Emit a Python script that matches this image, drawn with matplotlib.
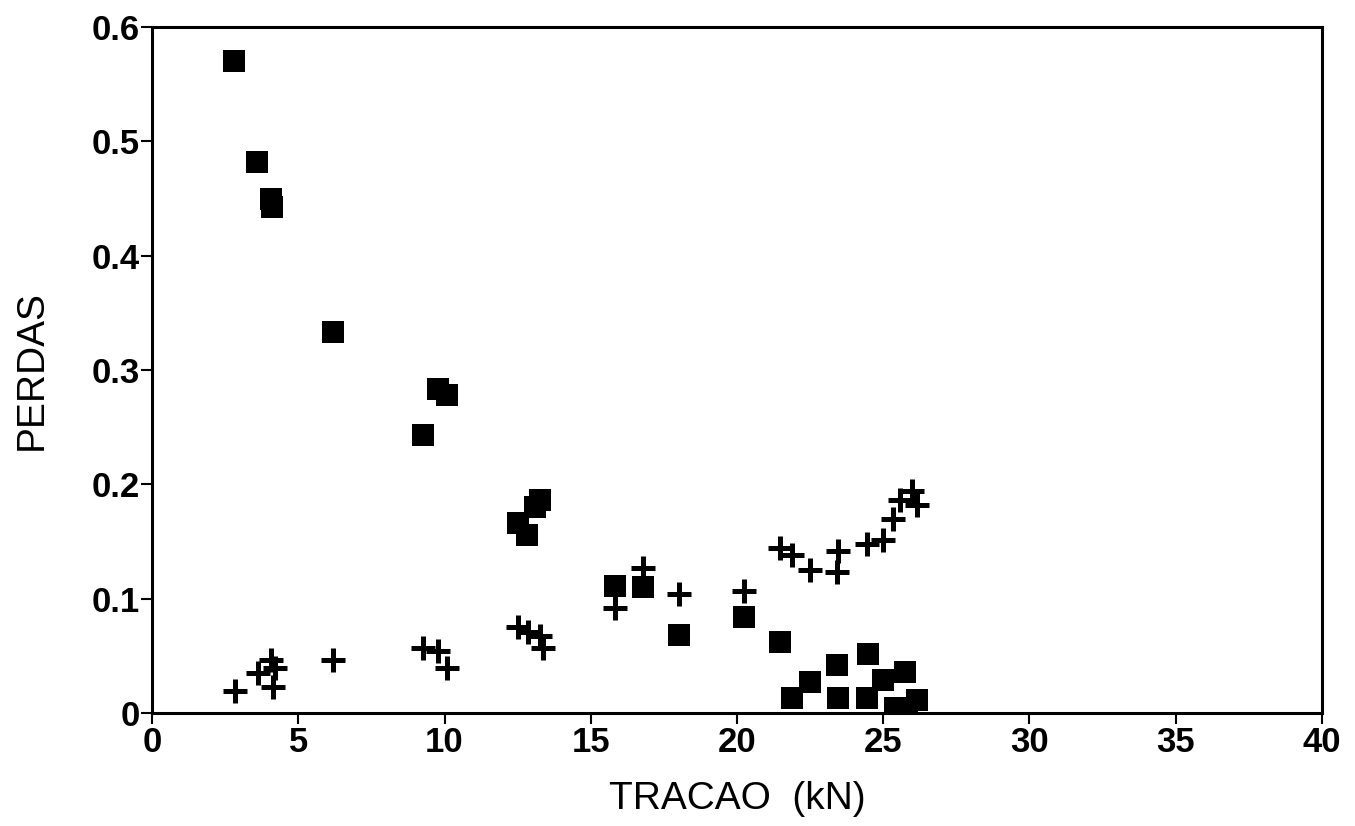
import matplotlib
matplotlib.use("Agg")
import matplotlib.pyplot as plt

# squares: losses measured at each traction
sq_tracao = [2.8, 3.6, 4.06, 4.09, 6.19, 9.79, 10.07, 9.28, 12.52, 12.81,
             13.1, 13.28, 15.83, 16.8, 18.02, 20.25, 21.47, 21.89, 22.5,
             23.43, 23.46, 24.49, 24.43, 25.0, 25.74, 25.4, 25.8, 26.14]
sq_perdas = [0.570, 0.482, 0.450, 0.443, 0.333, 0.283, 0.278, 0.243, 0.166,
             0.156, 0.180, 0.186, 0.111, 0.110, 0.068, 0.084, 0.062, 0.013,
             0.027, 0.042, 0.013, 0.052, 0.013, 0.029, 0.036, 0.004, 0.004,
             0.011]

# crosses: second series
cr_tracao = [2.82, 3.64, 4.06, 4.21, 4.12, 6.2, 9.28, 9.79, 10.1, 12.52,
             12.87, 13.26, 13.36, 15.83, 16.8, 18.03, 20.25, 21.47, 21.87,
             22.5, 23.46, 23.43, 24.43, 25.0, 25.34, 25.57, 25.97, 26.14]
cr_perdas = [0.019, 0.035, 0.046, 0.039, 0.023, 0.046, 0.057, 0.054, 0.039,
             0.0755, 0.071, 0.067, 0.057, 0.0915, 0.127, 0.104, 0.107, 0.144,
             0.138, 0.125, 0.142, 0.123, 0.148, 0.151, 0.170, 0.186, 0.194,
             0.182]

xticks = [0, 5, 10, 15, 20, 25, 30, 35, 40]
yticks = [0, 0.1, 0.2, 0.3, 0.4, 0.5, 0.6]
ytick_labels = ["0", "0.1", "0.2", "0.3", "0.4", "0.5", "0.6"]

plt.rcParams["font.family"] = ["Liberation Sans", "DejaVu Sans"]

fig = plt.figure(figsize=(13.55, 8.26), dpi=100)
ax = fig.add_axes([0.1122, 0.1368, 0.8634, 0.8305])

ax.plot(sq_tracao, sq_perdas, linestyle="none", marker="s", markersize=16.5,
        color="black", markeredgewidth=0)
ax.plot(cr_tracao, cr_perdas, linestyle="none", marker="+", markersize=17,
        color="black", markeredgewidth=3.6)

ax.set_xlim(0, 40)
ax.set_ylim(0, 0.6)
ax.set_xticks(xticks)
ax.set_xticklabels([str(t) for t in xticks], fontsize=25, fontweight="bold")
ax.set_yticks(yticks)
ax.set_yticklabels(ytick_labels, fontsize=25, fontweight="bold")

ax.tick_params(direction="out", length=8, width=1.5, pad=1, color="black")
for s in ax.spines.values():
    s.set_linewidth(2.2)

ax.set_xlabel("TRACAO  (kN)", fontsize=28, labelpad=16)
ax.set_ylabel("PERDAS", fontsize=28, labelpad=30)

fig.savefig("out.png", dpi=100, facecolor="white")
